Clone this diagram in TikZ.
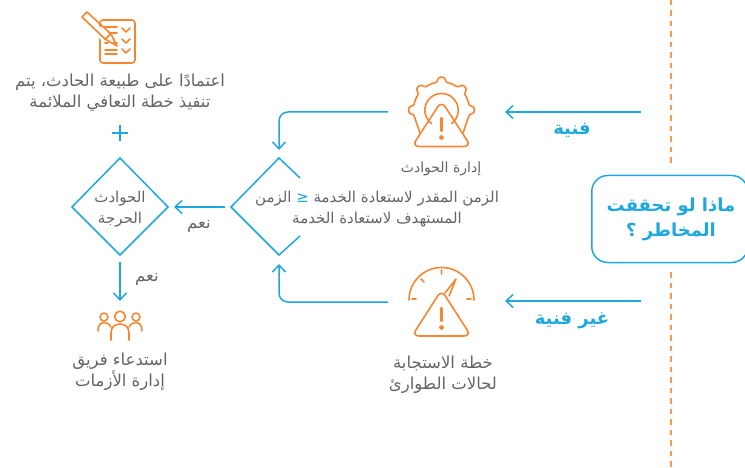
\documentclass[tikz,border=0pt]{standalone}
\usepackage{fontspec}
\usetikzlibrary{arrows.meta}
\TeXXeTstate=1
\newfontfamily\arabicfont[Script=Arabic]{DejaVu Sans}
\newcommand{\arl}[1]{\beginR #1\endR}
\definecolor{bluec}{HTML}{1FA7DF}
\definecolor{orangec}{HTML}{F58733}
\definecolor{grayc}{HTML}{636466}
\tikzset{
  flow/.style={draw=bluec,line width=1.5pt},
  flowarrow/.style={flow,-{Straight Barb[length=7pt,width=13pt,line width=1.5pt]}},
  icon/.style={draw=orangec,line width=1.6pt,line cap=round,line join=round},
  label/.style={text=grayc,align=center,inner sep=0pt,font=\arabicfont\fontsize{16.5}{21}\selectfont},
  smalllabel/.style={label,font=\arabicfont\fontsize{15}{20.5}\selectfont},
  bluelabel/.style={text=bluec,align=center,inner sep=0pt,font=\arabicfont\bfseries\fontsize{18}{25}\selectfont},
}
\begin{document}
\begin{tikzpicture}[x=1pt,y=-1pt]
\useasboundingbox (0,0) rectangle (745,468);
\clip (0,0) rectangle (745,468);
% divider
\draw[orangec!85!white,line width=1.6pt,dash pattern=on 5.5pt off 5pt] (671,0) -- (671,165);
\draw[orangec!85!white,line width=1.6pt,dash pattern=on 5.5pt off 5pt] (671,272) -- (671,468);
% question box
\node[draw=bluec,line width=1.5pt,rounded corners=16pt,minimum width=156pt,minimum height=87pt,anchor=west,inner sep=0pt] (box) at (591,219) {};
\node[bluelabel] (boxtext) at (671,219) {\arl{ماذا لو تحققت}\\\arl{المخاطر ؟}};
% named ends of connectors
\coordinate (techstart) at (641,112);
\coordinate (techend) at (505,112);
\coordinate (nontechstart) at (641,301);
\coordinate (nontechend) at (505,301);
\coordinate (gearout) at (388,112);
\coordinate (dialout) at (388,302);
\coordinate (dectop) at (279,150);
\coordinate (decbottom) at (279,264);
\coordinate (decleft) at (225,207);
\coordinate (critright) at (174,207);
\coordinate (critbottom) at (120,262);
\coordinate (teamtop) at (120,301);
% connectors
\draw[flowarrow] (techstart) -- (techend);
\draw[flowarrow] (nontechstart) -- (nontechend);
\draw[flowarrow,rounded corners=9pt] (gearout) -| (dectop);
\draw[flowarrow,rounded corners=9pt] (dialout) -| (decbottom);
\draw[flowarrow] (decleft) -- (critright);
\draw[flowarrow] (critbottom) -- (teamtop);
% arrow labels
\node[bluelabel] (lbltech) at (572,130) {\arl{فنية}};
\node[bluelabel] (lblnontech) at (572,321) {\arl{غير فنية}};
\node[label] (yes1) at (199,226) {\arl{نعم}};
\node[label] (yes2) at (147,279) {\arl{نعم}};
% broken decision diamond
\draw[flow] (300,178) -- (279,158) -- (231,207) -- (279,255) -- (300,236);
\node[smalllabel] (dectext) at (377,209) {\arl{الزمن} \textcolor{bluec}{≤} \arl{الزمن المقدر لاستعادة الخدمة}\\\arl{المستهدف لاستعادة الخدمة}};
% critical diamond
\draw[flow] (120,158) -- (168,207) -- (120,255) -- (72,207) -- cycle;
\node[smalllabel] (crit) at (120,209) {\arl{الحوادث}\\\arl{الحرجة}};
% plus
\draw[flow] (120,125) -- (120,141) (112,133) -- (128,133);
% text labels
\node[label] (plan) at (120,93) {\arl{اعتمادًا على طبيعة الحادث، يتم}\\\arl{تنفيذ خطة التعافي الملائمة}};
\node[label,font=\arabicfont\fontsize{14}{20}\selectfont] (gearlabel) at (441,169) {\arl{إدارة الحوادث}};
\node[label] (diallabel) at (443,375) {\arl{خطة الاستجابة}\\\arl{لحالات الطوارئ}};
\node[label] (teamlabel) at (120,372) {\arl{استدعاء فريق}\\\arl{إدارة الأزمات}};
% checklist icon
\draw[icon,rounded corners=3pt] (100,20) -- (135,20) -- (135,63) -- (100,63) -- cycle;
\fill[white] (96,23) -- (110,37) -- (119,48) -- (106,48) -- (94,30) -- cycle;
\draw[icon] (82,17) -- (87,12) -- (111,34) -- (117,46) -- (105,39) -- cycle;
\draw[icon] (105,39) -- (111,34);
\draw[icon] (104,27) -- (117,27) (109,33) -- (117,33) (113,43) -- (117,43) (105,43) -- (108,43) (105,50) -- (117,50) (105,54) -- (117,54);
\draw[icon] (122,28) -- (126,32) -- (130,28) (122,39) -- (126,43) -- (130,39) (122,49) -- (126,53) -- (130,49);
% gear icon
\draw[icon,smooth] plot[domain=-15:195,samples=141] ({441.5+(28+4.8*exp(-((abs(mod(\x+22.5+45,45)-22.5))/8)^4))*cos(\x)},{110-(28+4.8*exp(-((abs(mod(\x+22.5+45,45)-22.5))/8)^4))*sin(\x)});
\draw[icon] (414.5,117) -- (420,133) (468.5,117) -- (463,133);
\draw[icon] (431.5,123.5) arc[start angle=233,end angle=-53,radius=16.7,y radius=-16.7];
\draw[icon,rounded corners=7pt] (441.5,101) -- (471,146.5) -- (412,146.5) -- cycle;
\draw[icon,line width=2.2pt] (441.5,118) -- (441.5,131);
\fill[orangec] (441.5,137.5) circle (2.4);
% dial icon
\draw[icon] (409,300) arc[start angle=180,end angle=0,radius=32.5,y radius=-32.5];
\draw[icon] (441.5,270) -- (441.5,274) (421,279) -- (424,282) (412,299) -- (416,299) (467,299) -- (471,299);
\draw[icon] (445,293) -- (456,279) -- (449,296);
\draw[icon,rounded corners=7pt] (441.5,290) -- (471,336) -- (412,336) -- cycle;
\draw[icon,line width=2.2pt] (441.5,308) -- (441.5,321);
\fill[orangec] (441.5,327.5) circle (2.4);
% people icon
\draw[icon] (120,316.5) circle (5.3);
\draw[icon] (104,317) circle (4);
\draw[icon] (136,317) circle (4);
\draw[icon] (111,340) -- (111,333) .. controls (111,327) and (115,324) .. (120,324) .. controls (125,324) and (129,327) .. (129,333) -- (129,340);
\draw[icon] (98,331) .. controls (98,325) and (101,322.5) .. (104,322.5) .. controls (107,322.5) and (109,324) .. (111,327);
\draw[icon] (142,331) .. controls (142,325) and (139,322.5) .. (136,322.5) .. controls (133,322.5) and (131,324) .. (129,327);
\end{tikzpicture}
\end{document}
